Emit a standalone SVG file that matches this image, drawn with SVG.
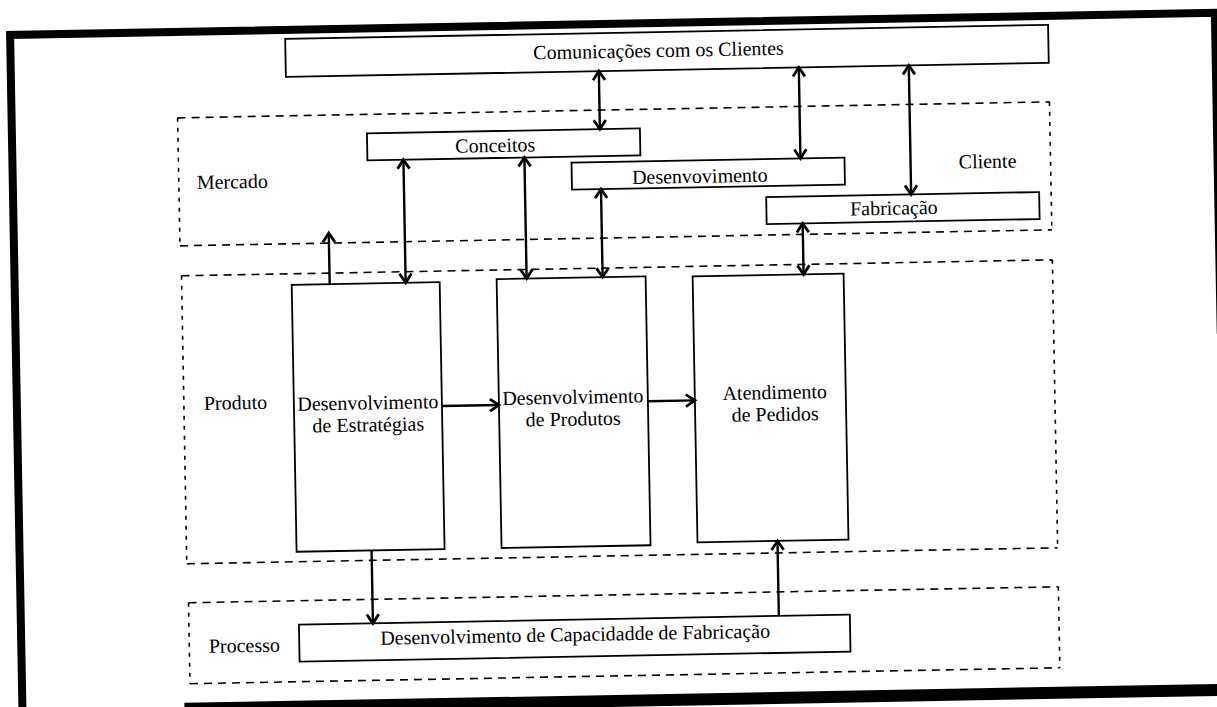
<svg xmlns="http://www.w3.org/2000/svg" width="1217" height="707" viewBox="0 0 1217 707">
  <style>
    .box { fill: none; stroke: #000; stroke-width: 1.8; }
    .dh { stroke: #000; stroke-width: 1.6; stroke-dasharray: 8 6; fill: none; }
    .dv { stroke: #000; stroke-width: 1.6; stroke-dasharray: 4 6; fill: none; }
    .lbl { font-family: "Liberation Serif", "Times New Roman", serif; font-size: 20px; fill: #000; }
    .mid { text-anchor: middle; }
    .link { stroke: #000; stroke-width: 2.4; fill: none; }
    .frame { stroke: #000; fill: none; }
  </style>
  <defs>
    <marker id="head" markerUnits="userSpaceOnUse" markerWidth="16" markerHeight="16" viewBox="0 0 16 16" refX="13" refY="8" orient="auto-start-reverse">
      <path d="M4,2 L13,8 L4,14" fill="none" stroke="#000" stroke-width="2.8" stroke-linejoin="miter"/>
    </marker>
  </defs>
  <rect width="1217" height="707" fill="#fff"/>

  <g transform="rotate(-1.05 608 353)">
    <!-- page frame -->
    <g id="frame">
      <path class="frame" stroke-width="8" d="M16,706 L16,24 L1221,24 L1221,345"/>
      <line class="frame" stroke-width="12" x1="178" y1="701" x2="1232" y2="701"/>
    </g>

    <!-- layer regions -->
    <g id="mercado">
      <line class="dh" x1="182" y1="110" x2="1054" y2="110"/>
      <line class="dh" x1="182" y1="238" x2="1054" y2="238"/>
      <line class="dv" x1="182" y1="110" x2="182" y2="238"/>
      <line class="dv" x1="1054" y1="110" x2="1054" y2="238"/>
      <text class="lbl" x="200" y="181.5">Mercado</text>
      <text class="lbl mid" x="991" y="175">Cliente</text>
    </g>
    <g id="produto">
      <line class="dh" x1="183" y1="268" x2="1054" y2="268"/>
      <line class="dh" x1="183" y1="556" x2="1054" y2="556"/>
      <line class="dv" x1="183" y1="268" x2="183" y2="556"/>
      <line class="dv" x1="1054" y1="268" x2="1054" y2="556"/>
      <text class="lbl" x="203" y="402.5">Produto</text>
    </g>
    <g id="processo">
      <line class="dh" x1="184" y1="595" x2="1054" y2="595"/>
      <line class="dh" x1="184" y1="676" x2="1054" y2="676"/>
      <line class="dv" x1="184" y1="595" x2="184" y2="676"/>
      <line class="dv" x1="1054" y1="595" x2="1054" y2="676"/>
      <text class="lbl" x="203.5" y="645.5">Processo</text>
    </g>

    <!-- nodes -->
    <g id="comunicacoes">
      <rect class="box" x="291" y="33" width="763" height="38"/>
      <text class="lbl mid" x="664" y="58">Comunicações com os Clientes</text>
    </g>
    <g id="conceitos">
      <rect class="box" x="371" y="129" width="273" height="27"/>
      <text class="lbl mid" x="499" y="150">Conceitos</text>
    </g>
    <g id="desenvovimento">
      <rect class="box" x="575" y="162" width="273" height="27"/>
      <text class="lbl mid" x="703" y="184.5">Desenvovimento</text>
    </g>
    <g id="fabricacao">
      <rect class="box" x="769" y="200" width="273" height="27"/>
      <text class="lbl mid" x="896.5" y="220">Fabricação</text>
    </g>
    <g id="estrategias">
      <rect class="box" x="293" y="279" width="148" height="267"/>
      <text class="lbl mid" x="367" y="405">Desenvolvimento</text>
      <text class="lbl mid" x="367" y="427">de Estratégias</text>
    </g>
    <g id="produtos">
      <rect class="box" x="498" y="277" width="149" height="269"/>
      <text class="lbl mid" x="572" y="403">Desenvolvimento</text>
      <text class="lbl mid" x="572" y="425">de Produtos</text>
    </g>
    <g id="pedidos">
      <rect class="box" x="694" y="278" width="151" height="266"/>
      <text class="lbl mid" x="774" y="402">Atendimento</text>
      <text class="lbl mid" x="774" y="424">de Pedidos</text>
    </g>
    <g id="capacidade">
      <rect class="box" x="294" y="619" width="551" height="37"/>
      <text class="lbl mid" x="570" y="640.5">Desenvolvimento de Capacidadde de Fabricação</text>
    </g>

    <!-- connectors -->
    <g id="connectors">
      <line class="link" x1="604" y1="71" x2="604" y2="129" marker-start="url(#head)" marker-end="url(#head)"/>
      <line class="link" x1="804" y1="71" x2="804" y2="162" marker-start="url(#head)" marker-end="url(#head)"/>
      <line class="link" x1="914" y1="71" x2="914" y2="200" marker-start="url(#head)" marker-end="url(#head)"/>
      <line class="link" x1="331" y1="279" x2="331" y2="228" marker-end="url(#head)"/>
      <line class="link" x1="407" y1="156" x2="407" y2="279" marker-start="url(#head)" marker-end="url(#head)"/>
      <line class="link" x1="528" y1="156" x2="528" y2="277" marker-start="url(#head)" marker-end="url(#head)"/>
      <line class="link" x1="604" y1="189" x2="604" y2="277" marker-start="url(#head)" marker-end="url(#head)"/>
      <line class="link" x1="805" y1="227" x2="805" y2="278" marker-start="url(#head)" marker-end="url(#head)"/>
      <line class="link" x1="441" y1="403" x2="498" y2="403" marker-end="url(#head)"/>
      <line class="link" x1="647" y1="402" x2="694" y2="402" marker-end="url(#head)"/>
      <line class="link" x1="368" y1="546" x2="368" y2="619" marker-end="url(#head)"/>
      <line class="link" x1="774" y1="619" x2="774" y2="544" marker-end="url(#head)"/>
    </g>
  </g>
</svg>
